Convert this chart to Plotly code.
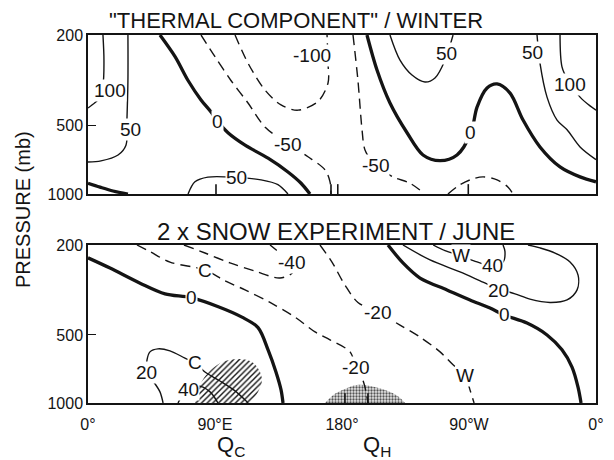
import math
import plotly.graph_objects as go

# ---------------- data (lon in degrees E 0..360, pressure in mb) -------------
# Top panel: "THERMAL COMPONENT" / WINTER   (contour interval 50)
T_P100_A_LON = [10.6, 11.3, 10.6, 7.1, 2.8, 0]
T_P100_A_P = [200, 258, 331, 386, 406, 419]
T_P100_B_LON = [334.5, 335.9, 340.2, 348.7, 355.8, 360]
T_P100_B_P = [200, 276, 317, 375, 410, 428]
T_P50_A_LON = [28.3, 28.3, 27.6, 26.9, 21.3, 9.2, 0]
T_P50_A_P = [200, 317, 470, 610, 674, 715, 723]
T_P50_B_LON = [318.2, 320.3, 325.3, 332.4, 339.5, 348.7, 360]
T_P50_B_P = [200, 266, 375, 473, 522, 621, 706]
T_P50_C_LON = [214, 221.1, 229.6, 238.8, 245.9, 253, 258.7]
T_P50_C_P = [200, 258, 300, 322, 309, 258, 200]
T_P50_D_LON = [70.9, 75.8, 85, 104.9, 122.6, 134.6, 141.7]
T_P50_D_P = [1000, 884, 843, 845, 867, 910, 1000]
T_Z_A_LON = [51, 61.7, 70.9, 80.1, 87.2, 92.1, 99.2, 111.3, 127.6, 141.7, 151, 157.3]
T_Z_A_P = [200, 249, 317, 386, 436, 482, 538, 610, 696, 800, 897, 1000]
T_Z_B_LON = [0, 8.5, 17.7, 28.3]
T_Z_B_P = [897, 933, 970, 1000]
T_Z_C_LON = [197.7, 204.8, 214, 226.1, 237.4, 249.5, 261.5, 271.4, 275.7, 282.8, 289.9,
             299.1, 308.3, 320.3, 334.5, 348.7, 360]
T_Z_C_P = [200, 285, 398, 538, 674, 714, 674, 538, 415, 342, 328, 360, 473, 621, 760, 841, 884]
T_M50_A_LON = [80.1, 90, 101.3, 113.4, 125.4, 141.7, 155.9, 168, 171.5, 172.2]
T_M50_A_P = [200, 249, 317, 398, 507, 603, 686, 784, 884, 1000]
T_M50_B_LON = [187.8, 191.3, 194.2, 196.3, 203.4, 216.2, 228.2, 238.8]
T_M50_B_P = [200, 317, 522, 640, 746, 841, 897, 1000]
T_M50_C_LON = [255.1, 262.2, 270.7, 279.9, 289.9, 297.7, 301.2]
T_M50_C_P = [1000, 923, 867, 841, 867, 933, 1000]
T_M100_LON = [104.2, 113.4, 125.4, 136.8, 148.8, 163, 170.1, 170.1, 169.4]
T_M100_P = [200, 266, 349, 406, 428, 392, 325, 266, 200]

TOP_LINES = [
    (100, T_P100_A_LON, T_P100_A_P), (100, T_P100_B_LON, T_P100_B_P),
    (50, T_P50_A_LON, T_P50_A_P), (50, T_P50_B_LON, T_P50_B_P),
    (50, T_P50_C_LON, T_P50_C_P), (50, T_P50_D_LON, T_P50_D_P),
    (0, T_Z_A_LON, T_Z_A_P), (0, T_Z_B_LON, T_Z_B_P), (0, T_Z_C_LON, T_Z_C_P),
    (-50, T_M50_A_LON, T_M50_A_P), (-50, T_M50_B_LON, T_M50_B_P), (-50, T_M50_C_LON, T_M50_C_P),
    (-100, T_M100_LON, T_M100_P),
]
TOP_LABEL_TEXT = ["100", "50", "0", "-100", "-50", "50", "-50", "50", "0", "50", "100"]
TOP_LABEL_LON = [15.6, 29.8, 92.1, 158.7, 141.7, 104.9, 203.4, 254.4, 271.4, 314.7, 341.6]
TOP_LABEL_P = [349, 522, 482, 247, 603, 848, 746, 240, 538, 238, 331]
TOP_MARK_LON = [90.7, 172.2, 177, 269.5]

# Bottom panel: 2 x SNOW EXPERIMENT / JUNE   (contour interval 20)
B_Z_A_LON = [0, 15.6, 36.9, 54.6, 73, 92.8, 109.1, 120.5, 127.6, 133.2, 136.8, 138.2]
B_Z_A_P = [228, 253, 295, 329, 342, 376, 417, 464, 582, 729, 875, 1000]
B_Z_B_LON = [212.6, 223.2, 235.3, 254.4, 270.7, 284.9, 294.8, 311.1, 325.3, 335.9, 343, 347.3, 349.4]
B_Z_B_P = [200, 240, 280, 316, 350, 380, 408, 443, 500, 582, 694, 853, 1000]
B_M20_A_LON = [34.7, 43.9, 58.1, 82.9, 97.1, 111.3, 129, 146.7, 160.9, 171.5, 185.7, 189.9,
               194.9, 197, 198.4]
B_M20_A_P = [200, 214, 238, 258, 288, 316, 359, 417, 485, 526, 594, 700, 796, 893, 1000]
B_M20_B_LON = [164.4, 172.9, 182.1, 191.3, 205.5, 221.1, 235.3, 249.5, 258.7, 267.2, 270.7, 273.6]
B_M20_B_P = [200, 238, 301, 359, 397, 452, 511, 594, 678, 753, 875, 1000]
B_M40_LON = [68, 82.9, 100.6, 118.4, 136.1, 145.3, 139.6, 133.2, 129]
B_M40_P = [200, 217, 240, 261, 280, 263, 228, 210, 200]
B_P20_A_LON = [223.2, 242.4, 263.6, 279.9, 290.6, 302.6, 313.2, 327.4, 339.5, 346.6, 347.3,
               341.6, 331, 320.3, 311.8]
B_P20_A_P = [200, 233, 263, 292, 312, 329, 347, 359, 350, 316, 272, 238, 217, 206, 200]
B_P20_B_LON = [53.2, 51, 46.1, 41.8, 41.8, 43.9, 49.6, 58.1, 68.7, 75.8, 82.9, 93.5, 104.2, 111.3, 113.4]
B_P20_B_P = [1000, 893, 799, 736, 646, 594, 576, 588, 633, 664, 729, 799, 884, 970, 1000]
B_P40_A_LON = [244.6, 253, 264.3, 273.5, 286.3, 294.1, 295.5, 294.1]
B_P40_A_P = [200, 212, 223, 235, 247, 238, 214, 200]
B_P40_B_LON = [63.8, 68.7, 78, 86.5, 92.1]
B_P40_B_P = [1000, 893, 840, 893, 1000]

BOTTOM_LINES = [
    (0, B_Z_A_LON, B_Z_A_P), (0, B_Z_B_LON, B_Z_B_P),
    (-20, B_M20_A_LON, B_M20_A_P), (-20, B_M20_B_LON, B_M20_B_P),
    (-40, B_M40_LON, B_M40_P),
    (20, B_P20_A_LON, B_P20_A_P), (20, B_P20_B_LON, B_P20_B_P),
    (40, B_P40_A_LON, B_P40_A_P), (40, B_P40_B_LON, B_P40_B_P),
]
BOT_LABEL_TEXT = ["C", "-40", "0", "-20", "W", "40", "20", "0", "-20", "W", "20", "C", "40"]
BOT_LABEL_LON = [82.9, 143.9, 73, 205.5, 264.3, 286.3, 290.6, 294.8, 189.9, 267.2, 41.8, 75.8, 70.9]
BOT_LABEL_P = [258, 238, 342, 397, 223, 247, 318, 408, 700, 753, 736, 664, 875]
BOT_MARK_LON = [182.1, 198.4]

HATCH_LON = [75.8, 77.2, 82.2, 88.6, 97.1, 107.7, 116.2, 121.2, 123.3, 120.5, 114.8]
HATCH_P = [1000, 893, 775, 700, 652, 639, 659, 714, 796, 893, 1000]
STIPPLE_LON = [168, 175, 182.1, 190.6, 199.9, 210.5, 219.7, 224.7]
STIPPLE_P = [1000, 910, 866, 832, 840, 875, 933, 1000]

X_TICKS = [0, 90, 180, 270, 360]
X_TICK_TEXT = ["0°", "90°E", "180°", "90°W", "0°"]
Y_TICKS = [200, 500, 1000]
Y_TICK_TEXT = ["200", "500", "1000"]
TOP_TITLE = "\"THERMAL COMPONENT\" / WINTER"
BOT_TITLE = "2 x SNOW EXPERIMENT / JUNE"
Y_TITLE = "PRESSURE (mb)"
HEAT_LABELS = ["Q<sub>C</sub>", "Q<sub>H</sub>"]
HEAT_LON = [101, 205]

# ---------------- figure ----------------
INK = "#141414"
FONT = "Liberation Sans"
W, H = 614, 460
OFF = 8  # the page body margin shifts the figure by this many pixels


def px(x):
    return (x - OFF) / W


def py(y):
    return 1 - (y - OFF) / H


fig = go.Figure()


def line_style(level):
    if level < 0:
        return dict(color=INK, width=1.4, dash="10px,6px")
    if level == 0:
        return dict(color=INK, width=3.3)
    return dict(color=INK, width=1.4)


def add_patch(lon, p, xa, ya, pattern):
    fig.add_trace(go.Scatter(x=lon, y=p, xaxis=xa, yaxis=ya, mode="lines", fill="toself",
                             line=dict(width=0, color="rgba(0,0,0,0)", shape="spline"),
                             fillcolor="rgba(0,0,0,0)", fillpattern=pattern,
                             hoverinfo="skip", showlegend=False))


add_patch(HATCH_LON, HATCH_P, "x2", "y2",
          dict(shape="/", fgcolor=INK, bgcolor="rgba(0,0,0,0)", size=4, solidity=0.35))
add_patch(STIPPLE_LON, STIPPLE_P, "x2", "y2",
          dict(shape=".", fgcolor="#555555", bgcolor="#e6e6e6", size=3, solidity=0.45))

for lines, xa, ya in [(TOP_LINES, "x", "y"), (BOTTOM_LINES, "x2", "y2")]:
    for level, lon, p in lines:
        st = line_style(level)
        st["shape"] = "spline"
        st["smoothing"] = 0.9
        fig.add_trace(go.Scatter(x=lon, y=p, xaxis=xa, yaxis=ya, mode="lines", line=st,
                                 hoverinfo="skip", showlegend=False))

# short marks standing on the 1000 mb line
for marks, xa, ya in [(TOP_MARK_LON, "x", "y"), (BOT_MARK_LON, "x2", "y2")]:
    xs, ys = [], []
    for m in marks:
        xs += [m, m, None]
        ys += [1000, 905, None]
    fig.add_trace(go.Scatter(x=xs, y=ys, xaxis=xa, yaxis=ya, mode="lines",
                             line=dict(color=INK, width=1.6), hoverinfo="skip", showlegend=False))

ann = []
for texts, lons, ps, xr, yr in [(TOP_LABEL_TEXT, TOP_LABEL_LON, TOP_LABEL_P, "x", "y"),
                                (BOT_LABEL_TEXT, BOT_LABEL_LON, BOT_LABEL_P, "x2", "y2")]:
    for t, lo, pp in zip(texts, lons, ps):
        ann.append(dict(x=lo, y=math.log10(pp), xref=xr, yref=yr, text=t, showarrow=False,
                        font=dict(family=FONT, size=19, color=INK), bgcolor="white",
                        borderpad=0, xanchor="center", yanchor="middle"))

ann.append(dict(x=px(296), y=py(21), xref="paper", yref="paper", text=TOP_TITLE, showarrow=False,
                xanchor="center", yanchor="middle", font=dict(family=FONT, size=22, color=INK)))
ann.append(dict(x=px(336), y=py(231), xref="paper", yref="paper", text=BOT_TITLE, showarrow=False,
                xanchor="center", yanchor="middle", font=dict(family=FONT, size=24, color=INK)))
ann.append(dict(x=px(23), y=py(210), xref="paper", yref="paper", text=Y_TITLE, showarrow=False,
                xanchor="center", yanchor="middle", textangle=-90,
                font=dict(family=FONT, size=20, color=INK)))
for t, lo in zip(HEAT_LABELS, HEAT_LON):
    ann.append(dict(x=lo, y=py(446), xref="x2", yref="paper", text=t, showarrow=False,
                    xanchor="center", yanchor="middle", font=dict(family=FONT, size=22, color=INK)))

XD = [px(88), px(596)]
axis_common = dict(showline=True, mirror=True, linecolor=INK, linewidth=1.5,
                   showgrid=False, zeroline=False, automargin=False)

fig.update_layout(
    template="none",
    width=W, height=H, margin=dict(l=0, r=0, t=0, b=0, pad=0, autoexpand=False),
    paper_bgcolor="white", plot_bgcolor="white", showlegend=False,
    font=dict(family=FONT, color=INK),
    annotations=ann,
    xaxis=dict(domain=XD, anchor="y", range=[0, 360], tickvals=X_TICKS, showticklabels=False,
               ticks="", **axis_common),
    yaxis=dict(domain=[py(194), py(35)], anchor="x", type="log",
               range=[3, math.log10(200)], tickvals=Y_TICKS, ticktext=Y_TICK_TEXT,
               ticks="inside", ticklen=8, tickcolor=INK, tickwidth=1.4,
               tickfont=dict(size=16, family=FONT, color=INK), **axis_common),
    xaxis2=dict(domain=XD, anchor="y2", range=[0, 360], tickvals=X_TICKS, ticktext=X_TICK_TEXT,
                ticks="", tickfont=dict(size=16, family=FONT, color=INK),
                ticklabelstandoff=6, **axis_common),
    yaxis2=dict(domain=[py(403), py(245)], anchor="x2", type="log",
                range=[3, math.log10(200)], tickvals=Y_TICKS, ticktext=Y_TICK_TEXT,
                ticks="inside", ticklen=8, tickcolor=INK, tickwidth=1.4,
                tickfont=dict(size=16, family=FONT, color=INK), **axis_common),
)

fig.write_html("out.html")
